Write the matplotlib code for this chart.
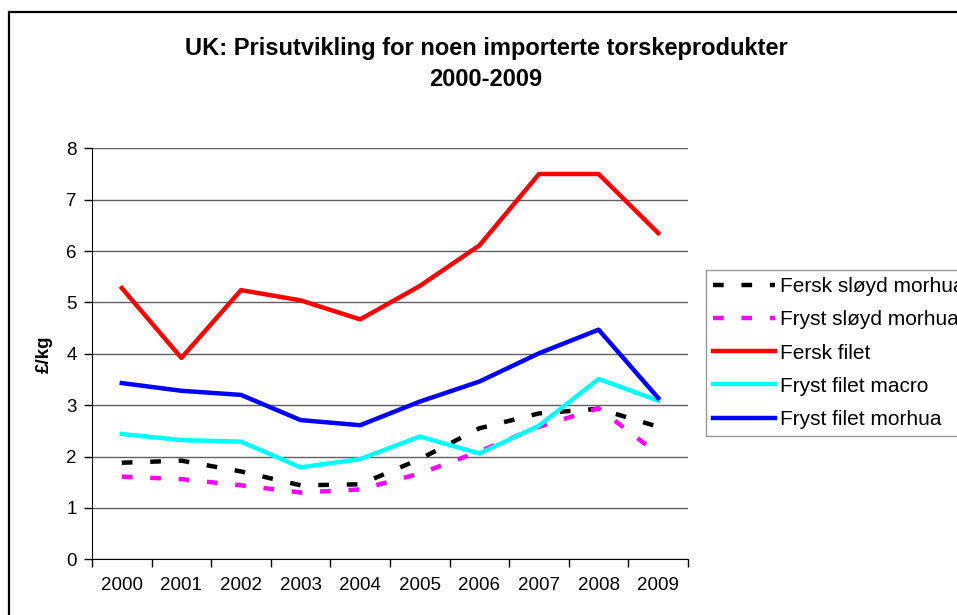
import numpy as np
import matplotlib
matplotlib.use("Agg")
import matplotlib.pyplot as plt
from matplotlib.patches import Rectangle

plt.rcParams['font.family'] = ['Liberation Sans', 'DejaVu Sans']

years = ['2000', '2001', '2002', '2003', '2004', '2005', '2006', '2007', '2008', '2009']

fersk_sloyd = [1.88, 1.92, 1.71, 1.44, 1.46, 1.95, 2.55, 2.84, 2.93, 2.58]
fryst_sloyd = [1.61, 1.56, 1.44, 1.30, 1.36, 1.67, 2.10, 2.58, 2.94, 2.05]
fersk_filet = [5.28, 3.92, 5.24, 5.04, 4.67, 5.32, 6.11, 7.50, 7.50, 6.35]
fryst_macro = [2.44, 2.32, 2.29, 1.79, 1.95, 2.39, 2.06, 2.60, 3.51, 3.09]
fryst_morhua = [3.43, 3.28, 3.20, 2.71, 2.61, 3.07, 3.46, 4.01, 4.47, 3.14]

labels = ['Fersk sløyd morhua', 'Fryst sløyd morhua', 'Fersk filet',
          'Fryst filet macro', 'Fryst filet morhua']

fig = plt.figure(figsize=(9.57, 6.15), dpi=100)
ax = fig.add_axes([92 / 957, 1 - 559.3 / 615, (688 - 92) / 957, (559.3 - 148.3) / 615])

x = np.arange(len(years))
lw = 3.2
ax.plot(x, fersk_sloyd, color='black', lw=lw, dashes=(2.4, 4.0), label=labels[0])
ax.plot(x, fryst_sloyd, color='#ff00ff', lw=lw, dashes=(2.4, 4.0), label=labels[1])
ax.plot(x, fersk_filet, color='#ff0000', lw=lw, label=labels[2])
ax.plot(x, fryst_macro, color='#00ffff', lw=lw, label=labels[3])
ax.plot(x, fryst_morhua, color='#0000ff', lw=lw, label=labels[4])

ax.set_xlim(-0.5, len(years) - 0.5)
ax.set_ylim(0, 8)
ax.set_yticks(range(0, 9))
ax.set_xticks(np.arange(-0.5, len(years), 1.0))
ax.set_xticklabels([])
ax.set_xticks(x, minor=True)
ax.set_xticklabels(years, minor=True)
ax.tick_params(axis='x', which='minor', length=0, labelsize=13.5, pad=13)
ax.tick_params(axis='x', which='major', length=6, width=1)
ax.tick_params(axis='y', length=6, width=1, labelsize=13.5, pad=5)
ax.yaxis.grid(True, color='#606060', lw=1)
ax.set_axisbelow(True)
for s in ['top', 'right']:
    ax.spines[s].set_visible(False)
ax.set_ylabel('£/kg', fontsize=13.5, fontweight='bold', labelpad=10)

fig.text(0.508, 1 - 48 / 615, 'UK: Prisutvikling for noen importerte torskeprodukter',
         ha='center', va='center', fontsize=17, fontweight='bold')
fig.text(0.508, 1 - 79 / 615, '2000-2009', ha='center', va='center',
         fontsize=17, fontweight='bold')

leg = fig.legend(loc='upper left', bbox_to_anchor=(705.7 / 957, 1 - 270 / 615),
                 fontsize=15, frameon=True, fancybox=False, handlelength=3.0,
                 handletextpad=0.2, labelspacing=0.68, borderpad=0.35, borderaxespad=0)
leg.get_frame().set_edgecolor('#808080')
leg.get_frame().set_linewidth(1)

fig.patches.append(Rectangle((9 / 957, -0.1), 1.2, 1.1 - 12 / 615, transform=fig.transFigure,
                             fill=False, edgecolor='black', lw=1.6))

fig.savefig('out.png', dpi=100)
